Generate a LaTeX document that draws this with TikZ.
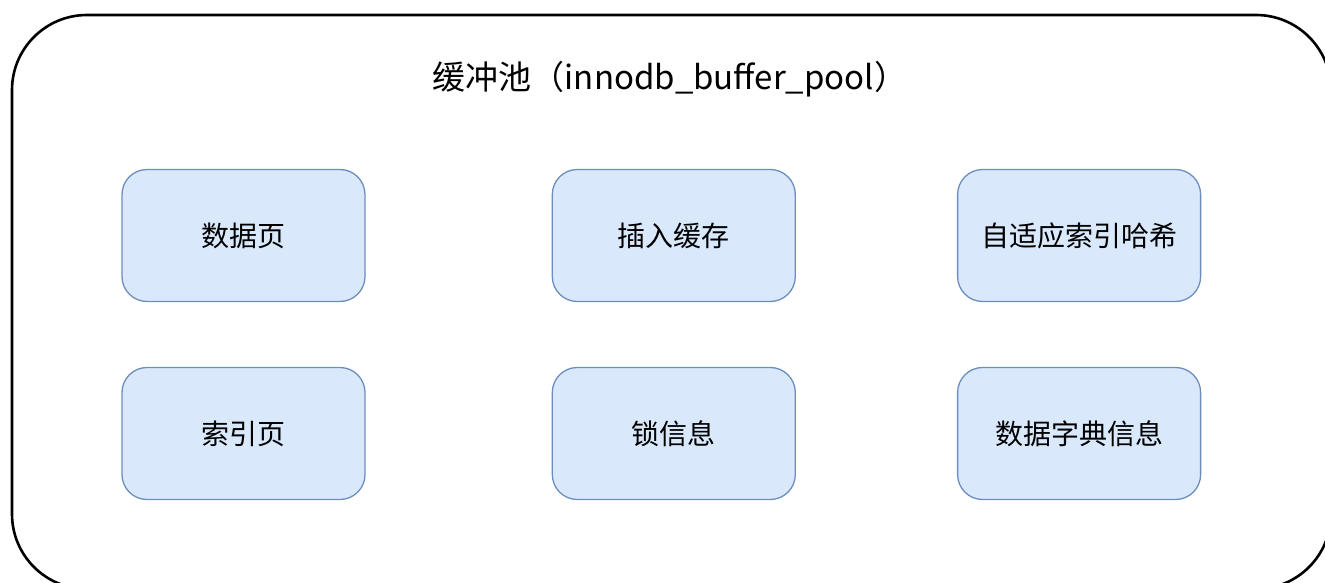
\documentclass[tikz,border=0pt]{standalone}
\usepackage{fontspec}
\setmainfont{Noto Sans CJK SC}
\usetikzlibrary{positioning}
\definecolor{boxfill}{HTML}{DAE8FC}
\definecolor{boxline}{HTML}{6C8EBF}

\begin{document}
\begin{tikzpicture}[x=1pt, y=-1pt, node distance = {66pt},
	main/.style = {draw=boxline, fill=boxfill, line width=1.3pt, rounded corners=25pt,
		minimum width=243pt, minimum height=132pt, inner sep=0pt,
		font=\fontsize{28}{32}\selectfont}]
	\useasboundingbox (0,0) rectangle (1325,583);
	\clip (0,0) rectangle (1325,583);
	\draw[line width=2.6pt, rounded corners=75pt] (12,15) rectangle (1331,589);
	\node (title) at (670,79) {\fontsize{33}{38}\selectfont 缓冲池（innodb\_buffer\_pool）};
	\node[main] (1) at (243.5,235.5) {数据页};
	\node[main] (2) [right=186pt of 1] {插入缓存};
	\node[main] (3) [right=161pt of 2] {自适应索引哈希};
	\node[main] (4) [below of=1, yshift=-132pt] {索引页};
	\node[main] (5) [below of=2, yshift=-132pt] {锁信息};
	\node[main] (6) [below of=3, yshift=-132pt] {数据字典信息};
\end{tikzpicture}
\end{document}
